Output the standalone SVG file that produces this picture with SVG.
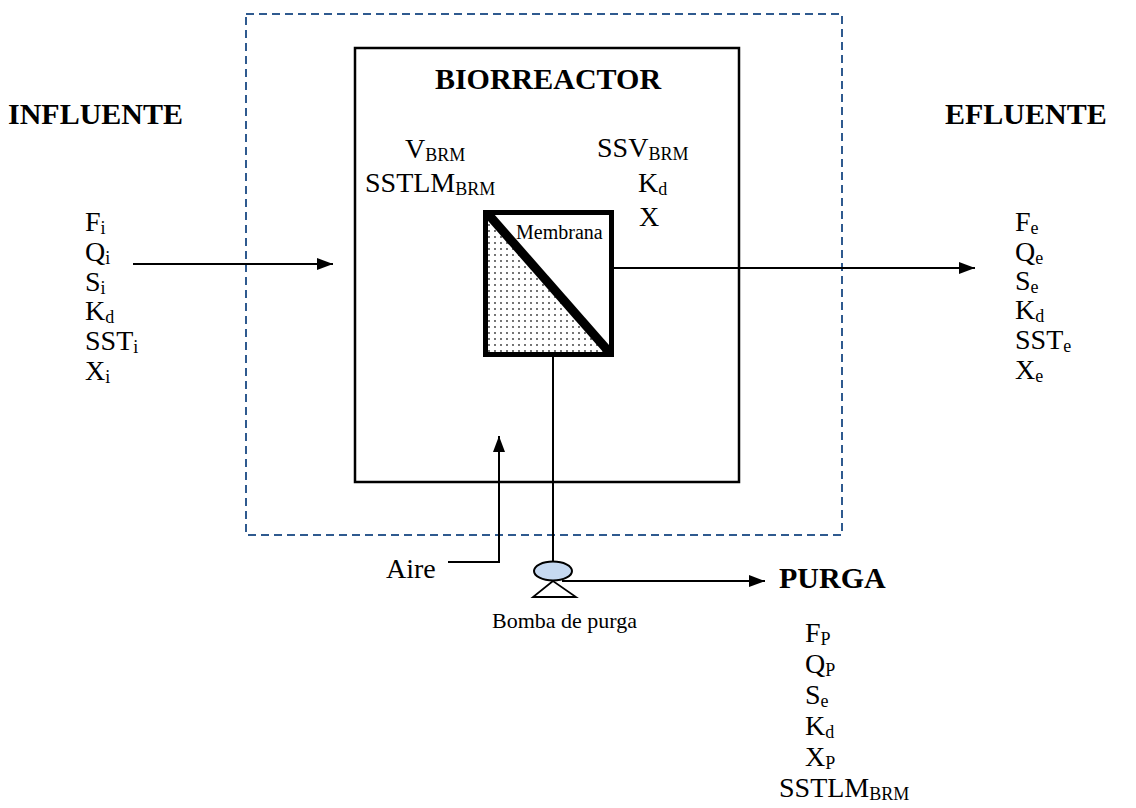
<svg xmlns="http://www.w3.org/2000/svg" width="1136" height="808" viewBox="0 0 1136 808">
<style>
text{font-family:"Liberation Serif","Times New Roman",serif;fill:#000}
.t{font-size:28px}
.b{font-size:30px;font-weight:bold}
.s{font-size:18px}
.ln{stroke:#000;stroke-width:2;fill:none}
</style>
<defs>
<marker id="ah2" viewBox="0 0 16 12" refX="16" refY="6" markerWidth="16" markerHeight="12" markerUnits="userSpaceOnUse" orient="auto">
<path d="M0,0 L16,6 L0,12 z" fill="#000"/>
</marker>
<pattern id="dots" width="6" height="6" patternUnits="userSpaceOnUse">
<rect width="6" height="6" fill="#fff"/>
<circle cx="3" cy="3" r="0.9" fill="#333"/>
</pattern>
</defs>
<rect width="1136" height="808" fill="#fff"/>

<g id="system-boundary">
<rect x="246" y="14" width="596" height="521" fill="none" stroke="#2f5a8f" stroke-width="2" stroke-dasharray="8,5"/>
</g>

<g id="biorreactor">
<rect x="355" y="48" width="384" height="434" fill="none" stroke="#000" stroke-width="2.5"/>
<text class="b" x="548" y="89" text-anchor="middle">BIORREACTOR</text>
<text class="t" x="405" y="158">V<tspan class="s" dy="3">BRM</tspan></text>
<text class="t" x="365" y="192">SSTLM<tspan class="s" dy="3">BRM</tspan></text>
<text class="t" x="597" y="157">SSV<tspan class="s" dy="3">BRM</tspan></text>
<text class="t" x="638" y="192">K<tspan class="s" dy="3">d</tspan></text>
<text class="t" x="639" y="226">X</text>
</g>

<g id="membrana">
<polygon points="487,214 611,354 487,354" fill="url(#dots)"/>
<rect x="485.5" y="212.5" width="126" height="142" fill="none" stroke="#000" stroke-width="5"/>
<line x1="488" y1="214" x2="610" y2="353" stroke="#000" stroke-width="9"/>
<text x="516" y="239" style="font-size:20px">Membrana</text>
</g>

<g id="influente">
<text class="b" x="8" y="124">INFLUENTE</text>
<text class="t" x="85" y="231">F<tspan class="s" dy="3">i</tspan></text>
<text class="t" x="85" y="261">Q<tspan class="s" dy="3">i</tspan></text>
<text class="t" x="85" y="291">S<tspan class="s" dy="3">i</tspan></text>
<text class="t" x="85" y="320">K<tspan class="s" dy="3">d</tspan></text>
<text class="t" x="85" y="350">SST<tspan class="s" dy="3">i</tspan></text>
<text class="t" x="85" y="380">X<tspan class="s" dy="3">i</tspan></text>
</g>

<g id="efluente">
<text class="b" x="945" y="124">EFLUENTE</text>
<text class="t" x="1015" y="231">F<tspan class="s" dy="3">e</tspan></text>
<text class="t" x="1015" y="261">Q<tspan class="s" dy="3">e</tspan></text>
<text class="t" x="1015" y="290">S<tspan class="s" dy="3">e</tspan></text>
<text class="t" x="1015" y="319">K<tspan class="s" dy="3">d</tspan></text>
<text class="t" x="1015" y="349">SST<tspan class="s" dy="3">e</tspan></text>
<text class="t" x="1015" y="379">X<tspan class="s" dy="3">e</tspan></text>
</g>

<g id="purga">
<text class="b" x="779" y="588">PURGA</text>
<text class="t" x="805" y="642">F<tspan class="s" dy="3">P</tspan></text>
<text class="t" x="805" y="673">Q<tspan class="s" dy="3">P</tspan></text>
<text class="t" x="805" y="704">S<tspan class="s" dy="3">e</tspan></text>
<text class="t" x="805" y="735">K<tspan class="s" dy="3">d</tspan></text>
<text class="t" x="805" y="766">X<tspan class="s" dy="3">P</tspan></text>
<text class="t" x="779" y="797">SSTLM<tspan class="s" dy="3">BRM</tspan></text>
</g>

<g id="aire">
<text class="t" x="386" y="578">Aire</text>
</g>

<g id="bomba">
<ellipse cx="553" cy="571" rx="19" ry="9.5" fill="#c6d9f1" stroke="#000" stroke-width="2"/>
<polygon points="553,581 533,597 576,597" fill="none" stroke="#000" stroke-width="1.8"/>
<text x="492" y="628" style="font-size:22px">Bomba de purga</text>
</g>

<g id="connectors">
<line class="ln" x1="133" y1="264" x2="333" y2="264" marker-end="url(#ah2)"/>
<line class="ln" x1="614" y1="268" x2="975" y2="268" marker-end="url(#ah2)"/>
<polyline class="ln" points="448,562 499,562 499,436" marker-end="url(#ah2)"/>
<line class="ln" x1="553" y1="357" x2="553" y2="562"/>
<line class="ln" x1="562" y1="581" x2="765" y2="581" marker-end="url(#ah2)"/>
</g>
</svg>
